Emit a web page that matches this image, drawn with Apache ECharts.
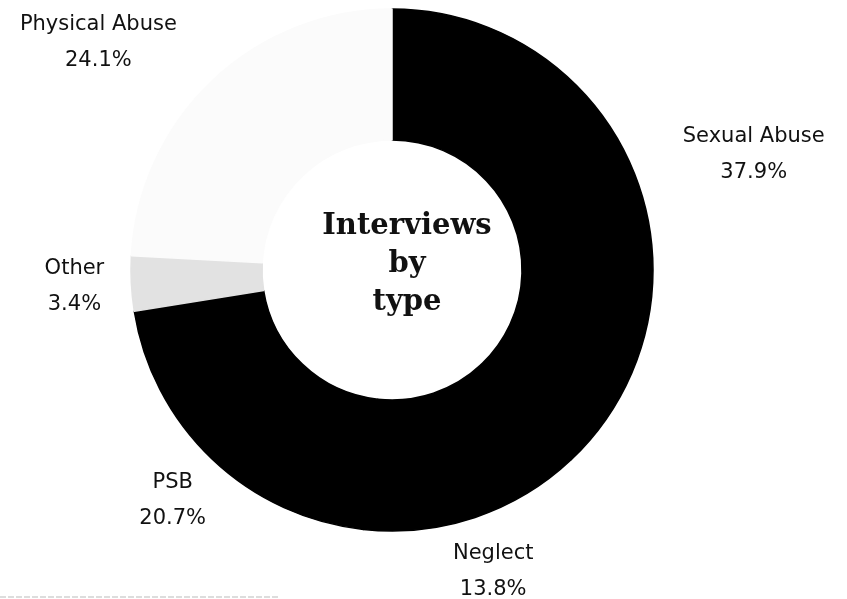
<!DOCTYPE html>
<html>
<head>
<meta charset="utf-8">
<script src="https://cdn.jsdelivr.net/npm/echarts@6/dist/echarts.min.js"></script>
<style>html,body{margin:0;padding:0;background:#fff;}#c{width:847px;height:599px;}</style>
</head>
<body>
<div id="c"></div>
<script>
// Data
const categories = ['Sexual Abuse', 'Neglect', 'PSB', 'Other', 'Physical Abuse'];
const shares = [37.9, 13.8, 20.7, 3.4, 24.1];
const sliceColors = ['#000000', '#000000', '#000000', '#e2e2e2', '#fbfbfb'];
const outerLabelNames = ['Sexual Abuse', 'Physical Abuse'];
const centerTitle = 'Interviews\nby\ntype';

const labelFont = 'DejaVu Sans';
const rich = { a: { align: 'center', fontFamily: labelFont, fontSize: 21, color: '#111', lineHeight: 36 } };

const mainData = categories.map((n, i) => ({
  name: n, value: shares[i],
  itemStyle: { color: sliceColors[i], borderColor: sliceColors[i], borderWidth: 1.5 },
  label: { show: outerLabelNames.indexOf(n) >= 0 }
}));
const overlayData = categories.map((n, i) => ({
  name: n, value: shares[i],
  label: { show: outerLabelNames.indexOf(n) < 0 }
}));

const chart = echarts.init(document.getElementById('c'), null, { renderer: 'canvas' });
chart.setOption({
  backgroundColor: '#ffffff',
  animation: false,
  title: {
    text: centerTitle,
    left: 402, top: 202, textAlign: 'center',
    textStyle: { fontFamily: 'DejaVu Serif', fontWeight: 'bold', fontSize: 29, lineHeight: 38, color: '#111' }
  },
  series: [
    {
      type: 'pie',
      center: [392, 270],
      radius: [130, 261],
      startAngle: 90,
      clockwise: true,
      silent: true,
      avoidLabelOverlap: false,
      data: mainData,
      label: {
        position: 'outside',
        formatter: '{a|{b}}\n{a|{c}%}',
        rich: rich,
        distanceToLabelLine: 0
      },
      labelLine: { show: false, length: 52, length2: 0 }
    },
    {
      type: 'pie',
      center: [392, 270],
      radius: [261, 369],
      startAngle: 90,
      clockwise: true,
      silent: true,
      z: 1,
      data: overlayData,
      itemStyle: { color: 'rgba(0,0,0,0)' },
      label: {
        position: 'inside',
        formatter: '{a|{b}}\n{a|{c}%}',
        rich: rich
      },
      labelLine: { show: false }
    }
  ],
  graphic: [
    {
      type: 'line',
      shape: { x1: 0, y1: 597, x2: 280, y2: 597 },
      style: { stroke: '#bbbbbb', lineWidth: 1, lineDash: [6, 2] }
    }
  ]
});
</script>
</body>
</html>
